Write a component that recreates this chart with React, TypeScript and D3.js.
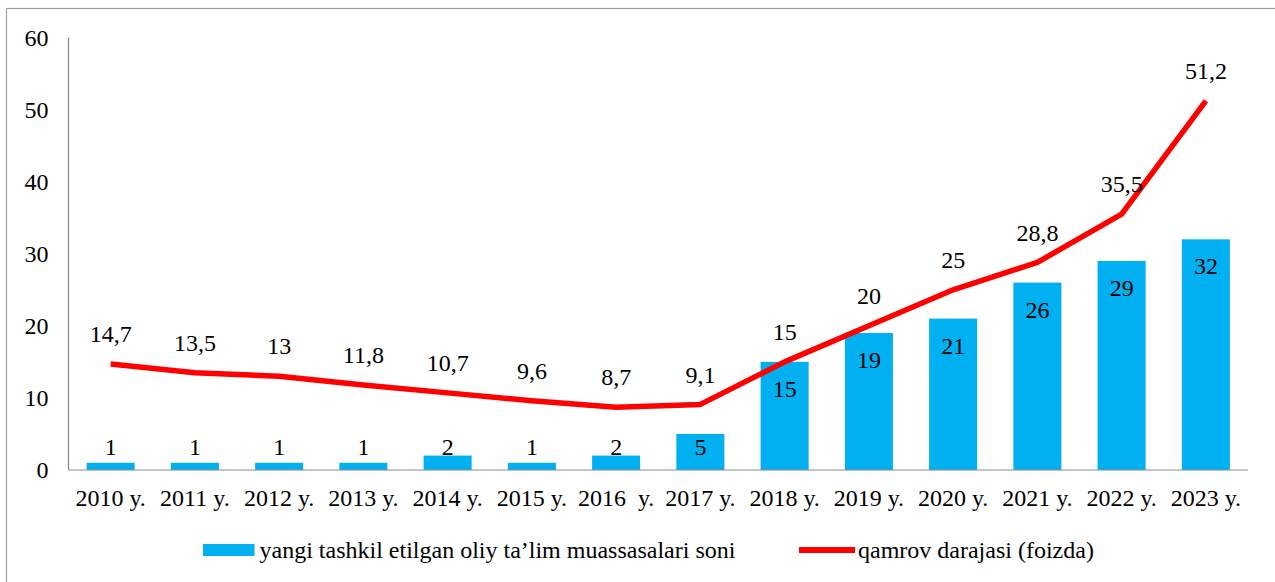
import React from "react";
import * as d3 from "d3";

const categories = ["2010 y.", "2011 y.", "2012 y.", "2013 y.", "2014 y.", "2015 y.", "2016  y.", "2017 y.", "2018 y.", "2019 y.", "2020 y.", "2021 y.", "2022 y.", "2023 y."];
const institutions = [1, 1, 1, 1, 2, 1, 2, 5, 15, 19, 21, 26, 29, 32];
const coverage = [14.7, 13.5, 13, 11.8, 10.7, 9.6, 8.7, 9.1, 15, 20, 25, 28.8, 35.5, 51.2];
const yTicks = [0, 10, 20, 30, 40, 50, 60];
const seriesNames = ["yangi tashkil etilgan oliy ta\u2019lim muassasalari soni", "qamrov darajasi (foizda)"];

const W = 1275;
const H = 582;
const FONT = "Liberation Serif, DejaVu Serif, serif";
const BAR = "#00B0F0";
const LINE = "#FF0000";
const AXIS = "#898989";

export default function App() {
  const x = d3.scaleBand<string>().domain(categories).range([68.5, 1248]).paddingInner(0.43).paddingOuter(0.215);
  const y = d3.scaleLinear().domain([0, 60]).range([470, 37.5]);
  const cx = (c: string) => (x(c) as number) + x.bandwidth() / 2;
  const lineGen = d3.line<number>().x((_, i) => cx(categories[i])).y((d) => y(d));
  const fmt = (v: number) => String(v).replace(".", ",");
  const ts: React.CSSProperties = { fontFamily: FONT, fontSize: 24, whiteSpace: "pre" };

  return (
    <svg width={W} height={H} style={{ position: "absolute", left: 0, top: 0, background: "#fff" }}>
      <rect x={6.5} y={8.5} width={W + 10} height={H + 10} fill="#fff" stroke="#A0A0A0" strokeWidth={1.2} />
      <line x1={68.5} x2={68.5} y1={y(60)} y2={y(0)} stroke={AXIS} strokeWidth={1.2} />
      {yTicks.map((t) => (
        <text key={t} x={48.5} y={y(t)} dy="0.34em" textAnchor="end" style={ts} fill="#000">
          {t}
        </text>
      ))}
      {institutions.map((v, i) => (
        <rect key={i} x={x(categories[i])} y={y(v)} width={x.bandwidth()} height={y(0) - y(v)} fill={BAR} />
      ))}
      <line x1={68.5} x2={1248} y1={y(0)} y2={y(0)} stroke={AXIS} strokeWidth={1.2} />
      <path d={lineGen(coverage) || ""} fill="none" stroke={LINE} strokeWidth={5.5} strokeLinejoin="round" />
      {institutions.map((v, i) => (
        <text key={i} x={cx(categories[i])} y={Math.min(y(v) + 27, 447)} dy="0.34em" textAnchor="middle" style={ts} fill="#000">
          {v}
        </text>
      ))}
      {coverage.map((v, i) => (
        <text key={i} x={cx(categories[i])} y={y(v) - 30} dy="0.34em" textAnchor="middle" style={ts} fill="#000">
          {fmt(v)}
        </text>
      ))}
      {categories.map((c) => (
        <text key={c} x={cx(c)} y={498} dy="0.34em" textAnchor="middle" style={ts} fill="#000">
          {c}
        </text>
      ))}
      <rect x={203} y={544} width={51.5} height={12} fill={BAR} />
      <text x={259.5} y={550} dy="0.35em" style={ts} fill="#000">{seriesNames[0]}</text>
      <line x1={799} x2={855} y1={550} y2={550} stroke={LINE} strokeWidth={6} />
      <text x={858} y={550} dy="0.35em" style={ts} fill="#000">{seriesNames[1]}</text>
    </svg>
  );
}
